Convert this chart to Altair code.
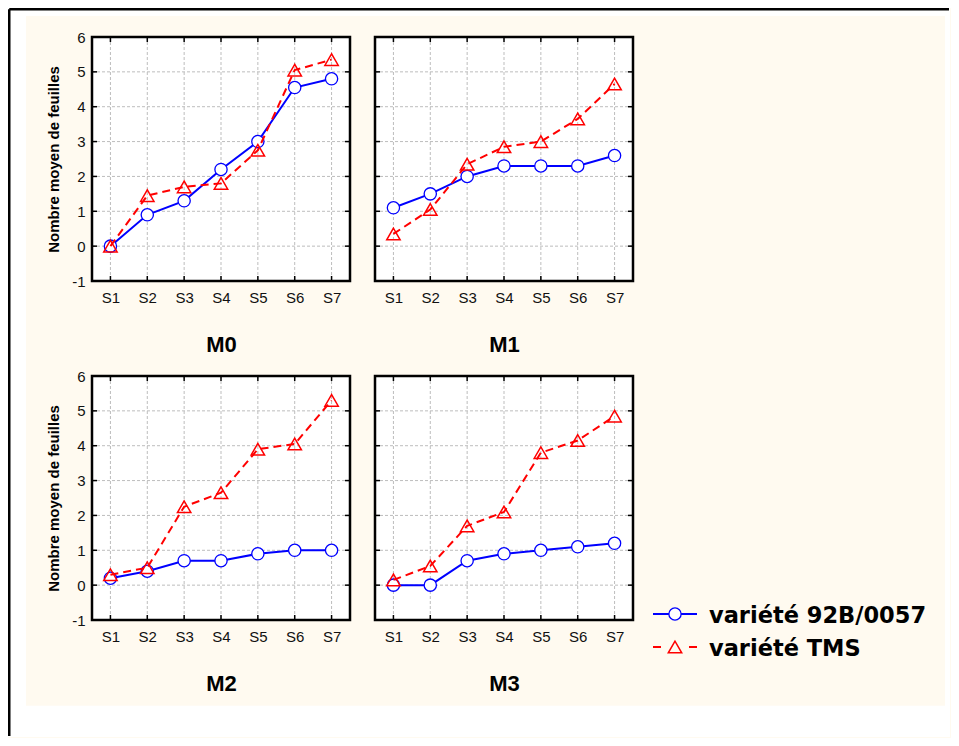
import altair as alt
import pandas as pd

# ---------------- data ----------------
stages = ["S1", "S2", "S3", "S4", "S5", "S6", "S7"]
series_names = ["variété 92B/0057", "variété TMS"]
y_ticks = [-1, 0, 1, 2, 3, 4, 5, 6]

m0_92b = [0.0, 0.9, 1.3, 2.2, 3.0, 4.55, 4.8]
m0_tms = [0.0, 1.45, 1.7, 1.8, 2.75, 5.05, 5.35]
m1_92b = [1.1, 1.5, 2.0, 2.3, 2.3, 2.3, 2.6]
m1_tms = [0.35, 1.05, 2.35, 2.85, 3.0, 3.65, 4.65]
m2_92b = [0.2, 0.4, 0.7, 0.7, 0.9, 1.0, 1.0]
m2_tms = [0.3, 0.5, 2.25, 2.65, 3.9, 4.05, 5.3]
m3_92b = [0.0, 0.0, 0.7, 0.9, 1.0, 1.1, 1.2]
m3_tms = [0.15, 0.55, 1.7, 2.1, 3.8, 4.15, 4.85]

# ---------------- style ----------------
W, H = 258, 244
FONT = "Liberation Sans"
LEG_FONT = "DejaVu Sans"
BLUE = "#0000FF"
RED = "#FF0000"
CREAM = "#FFFAF0"
GRID = "#BDBDBD"
RED_DASH = [8, 5]

decor_df = pd.DataFrame({"d": [0]})
grid_y_df = pd.DataFrame({"tick": y_ticks})
grid_x_df = pd.DataFrame({"stage": stages})


def make_panel(name, blue, red, show_y, decor=False):
    df = pd.DataFrame({
        "stage": stages * 2,
        "value": list(blue) + list(red),
        "series": [series_names[0]] * len(stages) + [series_names[1]] * len(stages),
    })
    xs = alt.Scale(type="point", domain=stages, padding=0.5)
    ys = alt.Scale(domain=[-1, 6], nice=False, zero=False)
    xa = alt.Axis(
        title=name, titleFont=FONT, titleFontSize=22, titleFontWeight="bold",
        titleColor="black", titlePadding=29,
        labelFont=FONT, labelFontSize=15, labelColor="#111111", labelPadding=9,
        labelAngle=0, ticks=False, domain=False, grid=False,
    )
    if show_y:
        ya = alt.Axis(
            values=y_ticks, labelExpr="'' + datum.value",
            title="Nombre moyen de feuilles", titleFont=FONT, titleFontSize=15,
            titleFontWeight="bold", titleColor="black", titlePadding=10,
            labelFont=FONT, labelFontSize=15, labelColor="#111111", labelPadding=7,
            ticks=False, domain=False, grid=False,
        )
    else:
        ya = alt.Axis(values=y_ticks, labels=False, title="", ticks=False,
                      domain=False, grid=False)

    X = lambda f: alt.X(f, scale=xs, axis=xa)
    Y = lambda f: alt.Y(f, scale=ys, axis=ya)

    layers = []
    if decor:
        d = alt.Chart(decor_df)
        white_strips = [(-84, -66, -29, 700), (-84, 858, -29, -21),
                        (-84, 858, 668.7, 700), (853, 858, -29, 700)]
        for x0, x1, y0, y1 in white_strips:
            layers.append(d.mark_rect(fill="white").encode(
                x=alt.value(x0), x2=alt.value(x1), y=alt.value(y0), y2=alt.value(y1)))
        layers.append(d.mark_rule(color="black", strokeWidth=2.5).encode(
            x=alt.value(-82.75), x2=alt.value(857), y=alt.value(-27.75)))
        layers.append(d.mark_rule(color="black", strokeWidth=2.5).encode(
            x=alt.value(-82.75), y=alt.value(-27.75), y2=alt.value(699)))

    layers.append(alt.Chart(decor_df).mark_rect(fill="white").encode(
        x=alt.value(0), x2=alt.value(W), y=alt.value(0), y2=alt.value(H)))

    # dashed grid
    layers.append(alt.Chart(grid_y_df).mark_rule(color=GRID, strokeWidth=1, strokeDash=[3, 2]).encode(
        y=Y("tick:Q")))
    layers.append(alt.Chart(grid_x_df).mark_rule(color=GRID, strokeWidth=1, strokeDash=[3, 2]).encode(
        x=X("stage:N")))

    base = alt.Chart(df)
    b = base.transform_filter(alt.datum.series == series_names[0])
    r = base.transform_filter(alt.datum.series == series_names[1])

    layers.append(b.mark_line(color=BLUE, strokeWidth=2).encode(x=X("stage:N"), y=Y("value:Q")))
    layers.append(b.mark_point(shape="circle", filled=True, fill="white", stroke=BLUE,
                               strokeWidth=1.3, size=150, opacity=1).encode(
        x=X("stage:N"), y=Y("value:Q")))
    layers.append(r.mark_line(color=RED, strokeWidth=2, strokeDash=RED_DASH).encode(
        x=X("stage:N"), y=Y("value:Q")))
    layers.append(r.mark_point(shape="triangle-up", filled=False, stroke=RED,
                               strokeWidth=1.5, size=180, opacity=1).encode(
        x=X("stage:N"), y=Y("value:Q")))

    # frame
    layers.append(alt.Chart(decor_df).mark_rect(fill="white", fillOpacity=0, stroke="black",
                                                strokeWidth=2.5).encode(
        x=alt.value(0), x2=alt.value(W), y=alt.value(0), y2=alt.value(H)))

    # inner ticks
    tk = dict(color="black", strokeWidth=1.5)
    layers.append(alt.Chart(grid_y_df).mark_rule(**tk).encode(
        y=Y("tick:Q"), x=alt.value(0), x2=alt.value(5)))
    layers.append(alt.Chart(grid_y_df).mark_rule(**tk).encode(
        y=Y("tick:Q"), x=alt.value(W - 5), x2=alt.value(W)))
    layers.append(alt.Chart(grid_x_df).mark_rule(**tk).encode(
        x=X("stage:N"), y=alt.value(H), y2=alt.value(H - 5)))
    layers.append(alt.Chart(grid_x_df).mark_rule(**tk).encode(
        x=X("stage:N"), y=alt.value(0), y2=alt.value(5)))

    return alt.layer(*layers)


p0 = make_panel("M0", m0_92b, m0_tms, True, decor=True).properties(width=W, height=H)
p1 = make_panel("M1", m1_92b, m1_tms, False).properties(width=W, height=H)
p2 = make_panel("M2", m2_92b, m2_tms, True).properties(width=W, height=H)

# ---------------- legend (drawn beside M3) ----------------
leg_df = pd.DataFrame({"name": series_names})
ly = alt.Y("name:N", scale=alt.Scale(type="point", domain=series_names, range=[238, 271], padding=0),
           axis=None)
LX = W + 20
lb = alt.Chart(leg_df).transform_filter(alt.datum.name == series_names[0])
lr = alt.Chart(leg_df).transform_filter(alt.datum.name == series_names[1])
legend = alt.layer(
    lb.mark_rule(color=BLUE, strokeWidth=2).encode(x=alt.value(LX), x2=alt.value(LX + 44), y=ly),
    lb.mark_point(shape="circle", filled=True, fill="white", stroke=BLUE, strokeWidth=1.3,
                  size=150, opacity=1).encode(x=alt.value(LX + 22), y=ly),
    lr.mark_rule(color=RED, strokeWidth=2, strokeDash=[8, 28]).encode(
        x=alt.value(LX), x2=alt.value(LX + 44), y=ly),
    lr.mark_point(shape="triangle-up", filled=False, stroke=RED, strokeWidth=1.5,
                  size=180, opacity=1).encode(x=alt.value(LX + 22), y=ly),
    alt.Chart(leg_df).mark_text(align="left", baseline="middle", font=LEG_FONT, fontSize=22.5,
                                fontWeight="bold", color="black", dy=2).encode(
        x=alt.value(LX + 56), y=ly, text="name:N"),
)

p3 = alt.layer(make_panel("M3", m3_92b, m3_tms, False), legend).resolve_scale(
    y="independent").properties(width=W, height=H)

chart = alt.concat(p0, p1, p2, p3, columns=2, spacing={"row": 95, "column": 25},
                   bounds="flush", padding=0, background=CREAM).configure_view(strokeWidth=0)

chart.save("out.html", embed_options={"renderer": "svg", "actions": False})
